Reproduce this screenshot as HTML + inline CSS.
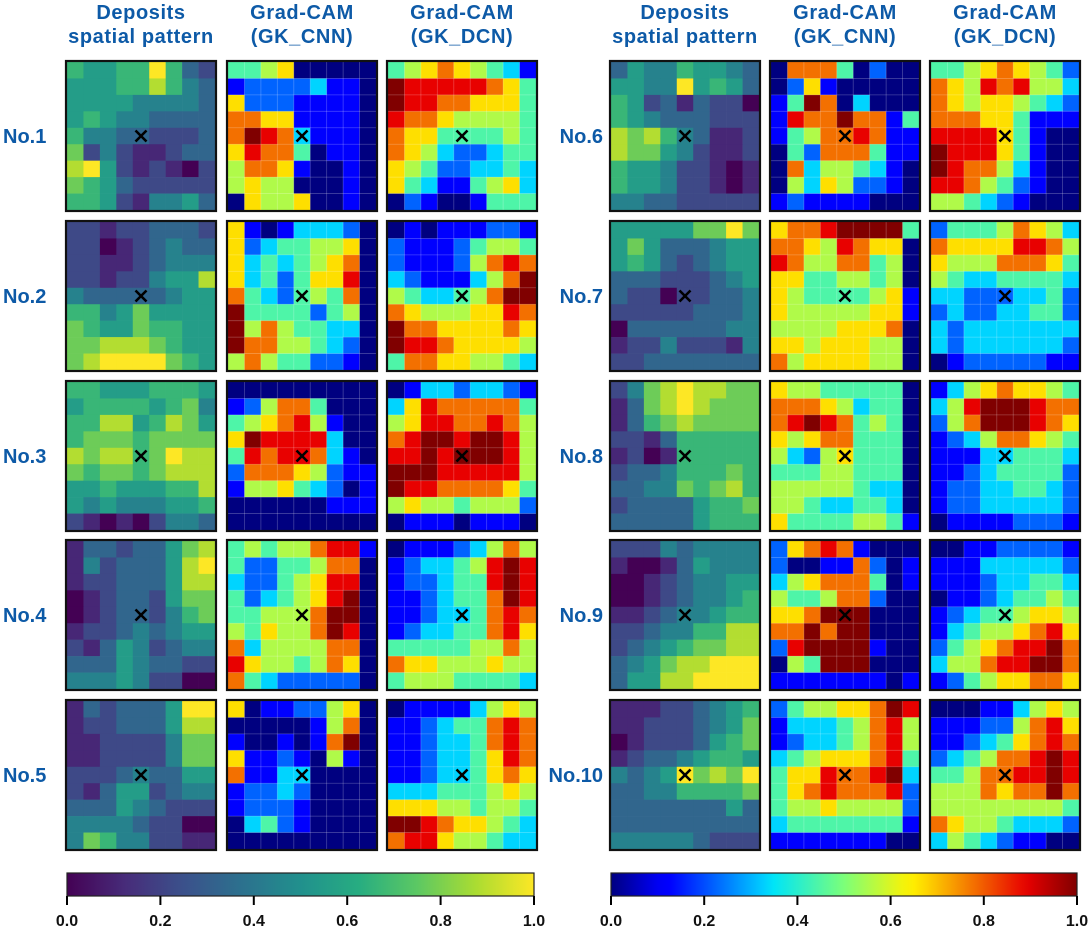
<!DOCTYPE html>
<html><head><meta charset="utf-8"><style>
html,body{margin:0;padding:0;background:#fff;}
svg text{font-family:"Liberation Sans","DejaVu Sans",sans-serif;font-weight:bold;}
</style></head><body>
<svg id="fig" width="1090" height="932" viewBox="0 0 1090 932" xmlns="http://www.w3.org/2000/svg"></svg>
<script>
// Digit values 0-9 per cell (value = d/9). 10 samples x 9 rows
const deposits = [
["655669632","555668643","555544443","565443333","644332223","724211233","895212102","765322222","665214453"],
["221223332","220123433","221123444","221224558","433333455","664575555","765576655","778887655","789999765"],
["665556665","566665674","668856875","677767777","878867988","767767888","556555668","545444556","210102443"],
["133233578","142333589","122333588","012332577","012332467","122343455","213542344","333543322","444542200"],
["132333599","122333588","112222477","112222477","222343355","213552344","333543222","444432200","476442211"],
["354465543","554495653","652313220","654333222","878643112","877542112","655422101","655422101","443322222"],
["555557797","575333455","565323455","333222345","322022334","222223334","033333344","122422214","223333333"],
["247898877","137898777","136787777","221366666","120166666","233466676","334476786","233335667","333335666"],
["222434444","100135444","001234455","001234456","112344566","223446688","234567788","345788999","355889999"],
["111223456","112223457","012223567","123345665","434597879","334466667","333333353","333333333","444443222"]
];
const gkCnn = [
["445600000","122223110","622211110","776611110","798731110","687740110","577610010","565500010","065560010"],
["610133320","623445560","634345670","634246680","743245470","944442450","957544330","977554320","575442210"],
["000000000","125774000","456785100","698888300","487887310","277765211","155643201","000000111","000000000"],
["454557881","422445770","322456880","423456890","445557990","546557980","735555770","865545760","743222220"],
["601122560","000001570","100101790","611210510","711330000","122320000","122210000","034210000","000000000"],
["077740200","026100000","149703000","187797714","145778711","042777411","073554310","053652210","121111000"],
["677899994","776587660","875577450","664455450","654444561","655555661","555566670","665666550","756666550"],
["655444440","777653440","789874540","656774440","532564440","444554440","555554330","554334430","644445541"],
["267871000","200117201","356777401","544577200","667999000","779799000","289999100","054999000","111111101"],
["245566798","133345785","123345785","345666784","466877893","467877782","455655552","344444441","111111100"]
];
const gkDcn = [
["456765431","988888764","988776664","877655554","766444454","765322344","654223343","643114563","021001444"],
["010111221","211124554","211125787","321113579","543345799","765556687","977666676","988766665","477665543"],
["013323321","368777774","568877875","789989985","889899985","999888885","988777764","565545552","011101110"],
["011123575","123345898","122344898","112344798","112334787","123344786","444445575","766555655","455544443"],
["011113565","112344787","112334787","112334687","112334676","333444565","666554554","998766543","788655433"],
["445676542","765878553","765665432","777664111","888864100","988864100","987753100","887542100","554321000"],
["244457653","766668875","655577764","543344443","332223342","232233442","323333333","323333332","012222211"],
["135676654","358999877","257999876","123577654","111334443","112344442","122334432","122333332","011112221"],
["001122221","111333332","111233443","011234454","123445665","134556786","245678897","355788997","124566776"],
["000113565","111225786","112346787","234577898","445778898","555767797","555555554","765543332","354321100"]
];
const rowLabels = ["No.1","No.2","No.3","No.4","No.5","No.6","No.7","No.8","No.9","No.10"];
const colTitles = [["Deposits","spatial pattern"],["Grad-CAM","(GK_CNN)"],["Grad-CAM","(GK_DCN)"]];
const tickLabels = ["0.0","0.2","0.4","0.6","0.8","1.0"];
const tickValues = [0,0.2,0.4,0.6,0.8,1.0];

const NS="http://www.w3.org/2000/svg";
const svg=document.getElementById('fig');
function mk(tag,attrs,parent){const e=document.createElementNS(NS,tag);for(const k in attrs)e.setAttribute(k,attrs[k]);(parent||svg).appendChild(e);return e;}
function interp(stops,v){v=Math.max(0,Math.min(1,v));for(let i=0;i<stops.length-1;i++){const a=stops[i],b=stops[i+1];if(v<=b[0]){const t=(v-a[0])/(b[0]-a[0]||1);return 'rgb('+[1,2,3].map(j=>Math.round(a[j]+(b[j]-a[j])*t)).join(',')+')';}}const l=stops[stops.length-1];return 'rgb('+l[1]+','+l[2]+','+l[3]+')';}
const VIR=[[0,68,1,84],[0.125,71,44,122],[0.25,59,81,139],[0.375,44,113,142],[0.5,33,144,141],[0.625,39,173,129],[0.75,92,200,99],[0.875,170,220,50],[1,253,231,37]];
const JET=[[0,0,0,128],[0.11,0,0,255],[0.125,0,0,255],[0.34,0,219,255],[0.35,0,229,247],[0.5,124,255,121],[0.64,255,243,0],[0.66,255,230,0],[0.89,232,0,0],[1,128,0,0]];
const vir=v=>interp(VIR,v), jet=v=>interp(JET,v);

const BLUE="#0d5aa7";
const groupX=[[67,228,388],[611,771,931]];
const rowY=[62,222,382,541,701];
const S=148, C=S/9;

function drawPanel(px,py,data,cmap,grid,name){
  const g=mk('g',{});
  
  
  for(let r=0;r<9;r++)for(let c=0;c<9;c++){
    const v=parseInt(data[r][c])/9;
    const cell=mk('rect',{x:px+c*C,y:py+r*C,width:C+0.3,height:C+0.3,fill:cmap(v)},g);
    
    
  }
  if(grid){for(let i=1;i<9;i++){mk('line',{x1:px+i*C,y1:py,x2:px+i*C,y2:py+S,stroke:'rgba(255,255,255,0.25)','stroke-width':0.8},g);mk('line',{x1:px,y1:py+i*C,x2:px+S,y2:py+i*C,stroke:'rgba(255,255,255,0.25)','stroke-width':0.8},g);}}
  const fr=mk('rect',{x:px-1,y:py-1,width:S+2,height:S+2,fill:'none',stroke:'#111','stroke-width':2.2},g);
  
  
  const cx=px+4.5*C, cy=py+4.5*C, d=5.5;
  const m=mk('g',{stroke:'#000','stroke-width':2.6},g);
  
  
  mk('line',{x1:cx-d,y1:cy-d,x2:cx+d,y2:cy+d},m);mk('line',{x1:cx-d,y1:cy+d,x2:cx+d,y2:cy-d},m);
}

for(let gi=0;gi<2;gi++){
  for(let k=0;k<3;k++){
    const tx=groupX[gi][k]+S/2;
    const t=mk('text',{x:tx,y:20,'text-anchor':'middle','font-size':20,'letter-spacing':0.6,fill:BLUE});
    
    
    mk('tspan',{x:tx,y:19},t).textContent=colTitles[k][0];
    mk('tspan',{x:tx,y:43},t).textContent=colTitles[k][1];
  }
  for(let r=0;r<5;r++){
    const idx=gi*5+r;
    const lab=mk('text',{x:gi?603:3,y:rowY[r]+S/2+7,'text-anchor':gi?'end':'start','font-size':20,fill:BLUE});
    
    
    lab.textContent=rowLabels[idx];
    drawPanel(groupX[gi][0],rowY[r],deposits[idx],vir,false,'deposits-panel');
    drawPanel(groupX[gi][1],rowY[r],gkCnn[idx],jet,true,'gk-cnn-panel');
    drawPanel(groupX[gi][2],rowY[r],gkDcn[idx],jet,true,'gk-dcn-panel');
  }
}

// colorbars
const defs=mk('defs',{});
function grad(id,stops){const lg=mk('linearGradient',{id:id,x1:0,y1:0,x2:1,y2:0},defs);for(let i=0;i<=40;i++){const v=i/40;mk('stop',{offset:v,'stop-color':(stops===VIR?vir(v):jet(v))},lg);}}
grad('gv',VIR);grad('gj',JET);
const bars=[[67,534,'gv','viridis-colorbar'],[611,1077,'gj','jet-colorbar']];
bars.forEach(b=>{
  const g=mk('g',{});
  
  
  const w=b[1]-b[0];
  mk('rect',{x:b[0],y:873,width:w,height:23,fill:'url(#'+b[2]+')',stroke:'#222','stroke-width':1.2},g);
  tickValues.forEach((tv,i)=>{
    const x=b[0]+tv*w;
    mk('line',{x1:x,y1:896,x2:x,y2:905,stroke:'#000','stroke-width':2},g);
    const t=mk('text',{x:x,y:926,'text-anchor':'middle','font-size':16,fill:'#111'},g);
    
    
    t.textContent=tickLabels[i];
  });
});
</script>
</body></html>
